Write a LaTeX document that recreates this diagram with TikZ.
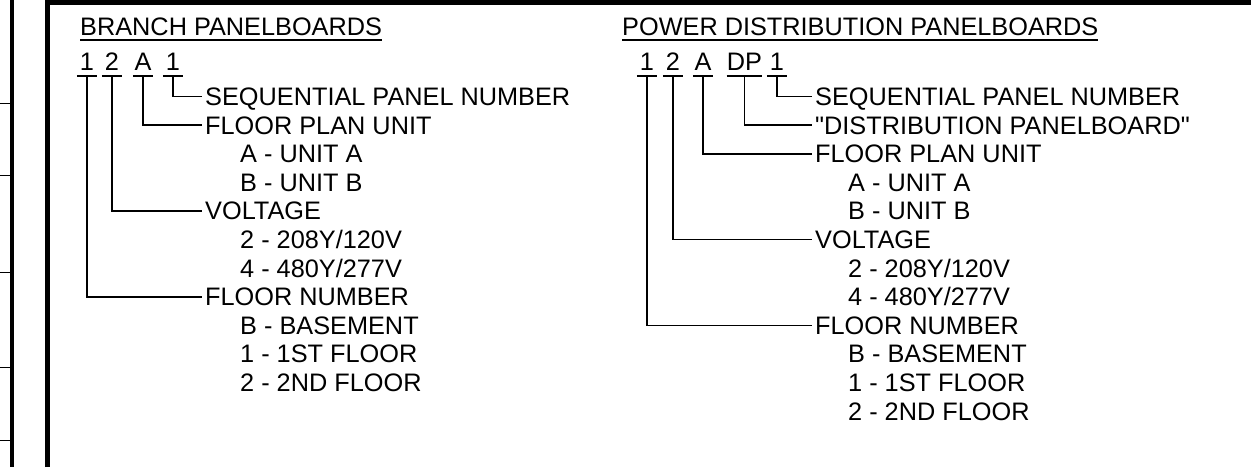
\documentclass[tikz,border=0pt]{standalone}
\usepackage{fontspec}
\setmainfont{Liberation Sans}[Ligatures=TeXOff]
\usetikzlibrary{positioning}

\begin{document}
\begin{tikzpicture}[
    x=1pt, y=-1pt,
    font=\fontsize{25.3}{28.6}\selectfont,
    title/.style={anchor=base west, inner xsep=0pt, inner ysep=5pt, text height=18pt, text depth=0pt},
    code/.style={anchor=base, inner xsep=0pt, inner ysep=5pt, minimum width=20pt, text height=18pt, text depth=0pt},
    item/.style={anchor=west, inner xsep=3pt, inner ysep=0pt, text height=18pt, text depth=0pt},
    lead/.style={line width=1.6pt},
    rule/.style={line width=1.8pt},
    frame/.style={line width=4.5pt}
]
\useasboundingbox (0,0) rectangle (1251,467);

% Sheet border
\draw[line width=4pt] (12,0) -- (12,467);
\draw[line width=1pt] (0,103) -- (12,103);
\draw[line width=1pt] (0,175) -- (12,175);
\draw[line width=1pt] (0,272) -- (12,272);
\draw[line width=1pt] (0,367) -- (12,367);
\draw[line width=1pt] (0,440) -- (12,440);
\draw[frame] (47.5,467) -- (47.5,2.5) -- (1251,2.5);

% Branch panelboards
\node[title] (btitle) at (80,35) {BRANCH PANELBOARDS};
\draw[rule] (btitle.south west) -- (btitle.south east);

\node[code] (bfloor) at (87,70.5) {1};
\node[code] (bvolt) at (112,70.5) {2};
\node[code] (bunit) at (143,70.5) {A};
\node[code] (bseq) at (173,70.5) {1};

\node[item] (bseqlbl) at (202,96.5) {SEQUENTIAL PANEL NUMBER};
\node[item] (bunitlbl) at (202,125.1) {FLOOR PLAN UNIT};
\node[item] (bunita) at (237,153.7) {A - UNIT A};
\node[item] (bunitb) at (237,182.3) {B - UNIT B};
\node[item] (bvoltlbl) at (202,210.9) {VOLTAGE};
\node[item] (bvolt2) at (237,239.5) {2 - 208Y/120V};
\node[item] (bvolt4) at (237,268.1) {4 - 480Y/277V};
\node[item] (bfloorlbl) at (202,296.7) {FLOOR NUMBER};
\node[item] (bfloorb) at (237,325.3) {B - BASEMENT};
\node[item] (bfloor1) at (237,353.9) {1 - 1ST FLOOR};
\node[item] (bfloor2) at (237,382.5) {2 - 2ND FLOOR};

\draw[lead] (bfloor.south west) -- (bfloor.south east);
\draw[lead] (bvolt.south west) -- (bvolt.south east);
\draw[lead] (bunit.south west) -- (bunit.south east);
\draw[lead] (bseq.south west) -- (bseq.south east);

\draw[lead] (bseq.south) |- (bseqlbl.west);
\draw[lead] (bunit.south) |- (bunitlbl.west);
\draw[lead] (bvolt.south) |- (bvoltlbl.west);
\draw[lead] (bfloor.south) |- (bfloorlbl.west);

% Power distribution panelboards
\node[title] (dtitle) at (622,35) {POWER DISTRIBUTION PANELBOARDS};
\draw[rule] (dtitle.south west) -- (dtitle.south east);

\node[code] (dfloor) at (647,70.5) {1};
\node[code] (dvolt) at (673,70.5) {2};
\node[code] (dunit) at (703,70.5) {A};
\node[code] (dtype) at (744.5,70.5) {DP};
\node[code] (dseq) at (777,70.5) {1};

\node[item] (dseqlbl) at (812,96.5) {SEQUENTIAL PANEL NUMBER};
\node[item] (dtypelbl) at (812,125.1) {"DISTRIBUTION PANELBOARD"};
\node[item] (dunitlbl) at (812,153.7) {FLOOR PLAN UNIT};
\node[item] (dunita) at (845,182.3) {A - UNIT A};
\node[item] (dunitb) at (845,210.9) {B - UNIT B};
\node[item] (dvoltlbl) at (812,239.5) {VOLTAGE};
\node[item] (dvolt2) at (845,268.1) {2 - 208Y/120V};
\node[item] (dvolt4) at (845,296.7) {4 - 480Y/277V};
\node[item] (dfloorlbl) at (812,325.3) {FLOOR NUMBER};
\node[item] (dfloorb) at (845,353.9) {B - BASEMENT};
\node[item] (dfloor1) at (845,382.5) {1 - 1ST FLOOR};
\node[item] (dfloor2) at (845,411.1) {2 - 2ND FLOOR};

\draw[lead] (dfloor.south west) -- (dfloor.south east);
\draw[lead] (dvolt.south west) -- (dvolt.south east);
\draw[lead] (dunit.south west) -- (dunit.south east);
\draw[lead] (dtype.south west) -- (dtype.south east);
\draw[lead] (dseq.south west) -- (dseq.south east);

\draw[lead] (dseq.south) |- (dseqlbl.west);
\draw[lead] (dtype.south) |- (dtypelbl.west);
\draw[lead] (dunit.south) |- (dunitlbl.west);
\draw[lead] (dvolt.south) |- (dvoltlbl.west);
\draw[lead] (dfloor.south) |- (dfloorlbl.west);

\end{tikzpicture}
\end{document}
